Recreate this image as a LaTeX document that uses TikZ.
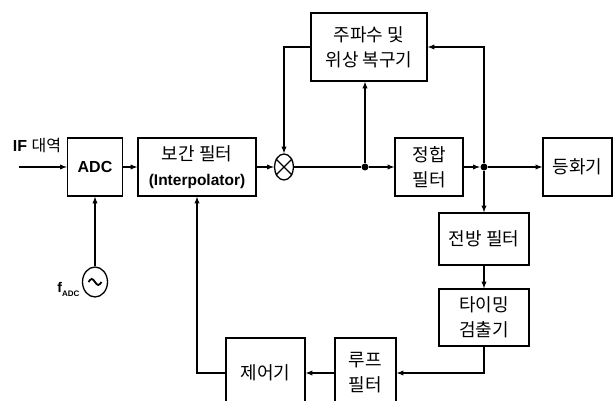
\documentclass[tikz,border=0pt]{standalone}
\usepackage{fontspec}
\setmainfont{Liberation Sans}
\newfontfamily\kr{Noto Sans CJK KR}
\usetikzlibrary{arrows,shapes.geometric}

\begin{document}
\begin{tikzpicture}[x=1pt,y=-1pt,line width=1.3pt,>=latex]
	\path [use as bounding box] (0,0) rectangle (616,401);
	\tikzstyle{blk} = [draw, align=center, inner sep=0pt, font=\kr\fontsize{18}{25}\selectfont]
	\tikzstyle{dot} = [circle, fill, inner sep=0pt, minimum size=7pt]
	\node[blk, minimum width=55pt, minimum height=58pt, font=\bfseries\fontsize{16}{16}\selectfont] (adc) at (95,167) {ADC};
	\node[blk, minimum width=118pt, minimum height=58pt] (interp) at (197,167) {보간 필터\\\normalfont\bfseries\fontsize{15.5}{16}\selectfont(Interpolator)};
	\node[draw, ellipse, minimum width=19pt, minimum height=26pt, inner sep=0pt] (mix) at (284,167) {};
	\draw (mix.45) -- (mix.225) (mix.135) -- (mix.315);
	\node[dot] (d1) at (365,167) {};
	\node[dot] (d2) at (484,167) {};
	\node[blk, minimum width=116pt, minimum height=68pt] (rec) at (369,47) {주파수 및\\위상 복구기};
	\node[blk, minimum width=68pt, minimum height=58pt] (mf) at (429,167) {정합\\필터};
	\node[blk, minimum width=69pt, minimum height=58pt] (eq) at (577.5,167) {등화기};
	\node[blk, minimum width=90pt, minimum height=52pt] (ff) at (484,239) {전방 필터};
	\node[blk, minimum width=90pt, minimum height=57pt] (ted) at (484,317.5) {타이밍\\검출기};
	\node[blk, minimum width=61pt, minimum height=70pt] (lf) at (365.5,373) {루프\\필터};
	\node[blk, minimum width=79pt, minimum height=70pt] (ctrl) at (265.5,373) {제어기};
	\node[draw, ellipse, minimum width=25pt, minimum height=30pt, inner sep=0pt] (osc) at (95,282) {};
	\draw[line width=1.8pt] ([xshift=-6.5pt]osc.center) sin ++(3.25,-3) cos ++(3.25,3) sin ++(3.25,3) cos ++(3.25,-3);
	\node[anchor=east, inner sep=0pt, font=\bfseries\fontsize{14}{14}\selectfont] (fadc) at (80,289) {f\raisebox{-4pt}{\fontsize{8}{8}\selectfont ADC}};
	\node[font=\fontsize{16}{16}\selectfont] (iflbl) at (37,146) {\bfseries IF \normalfont\kr 대역};
	\coordinate (in) at (19,167);
	\draw[->] (in) -- (adc);
	\draw[->] (adc) -- (interp);
	\draw[->] (interp) -- (mix);
	\draw (mix) -- (d1);
	\draw[->] (d1) -- (mf);
	\draw[->] (mf) -- (d2);
	\draw[->] (d2) -- (eq);
	\draw[->] (d1) -- (d1 |- rec.south);
	\draw[->] (rec.west) -| (mix.north);
	\draw[->] (d2) |- (rec.east);
	\draw[->] (d2) -- (ff);
	\draw[->] (ff) -- (ted);
	\draw[->] (ted.south) |- (lf.east);
	\draw[->] (lf) -- (ctrl);
	\draw[->] (ctrl.west) -| (interp.south);
	\draw[->] (osc) -- (adc);
\end{tikzpicture}
\end{document}
